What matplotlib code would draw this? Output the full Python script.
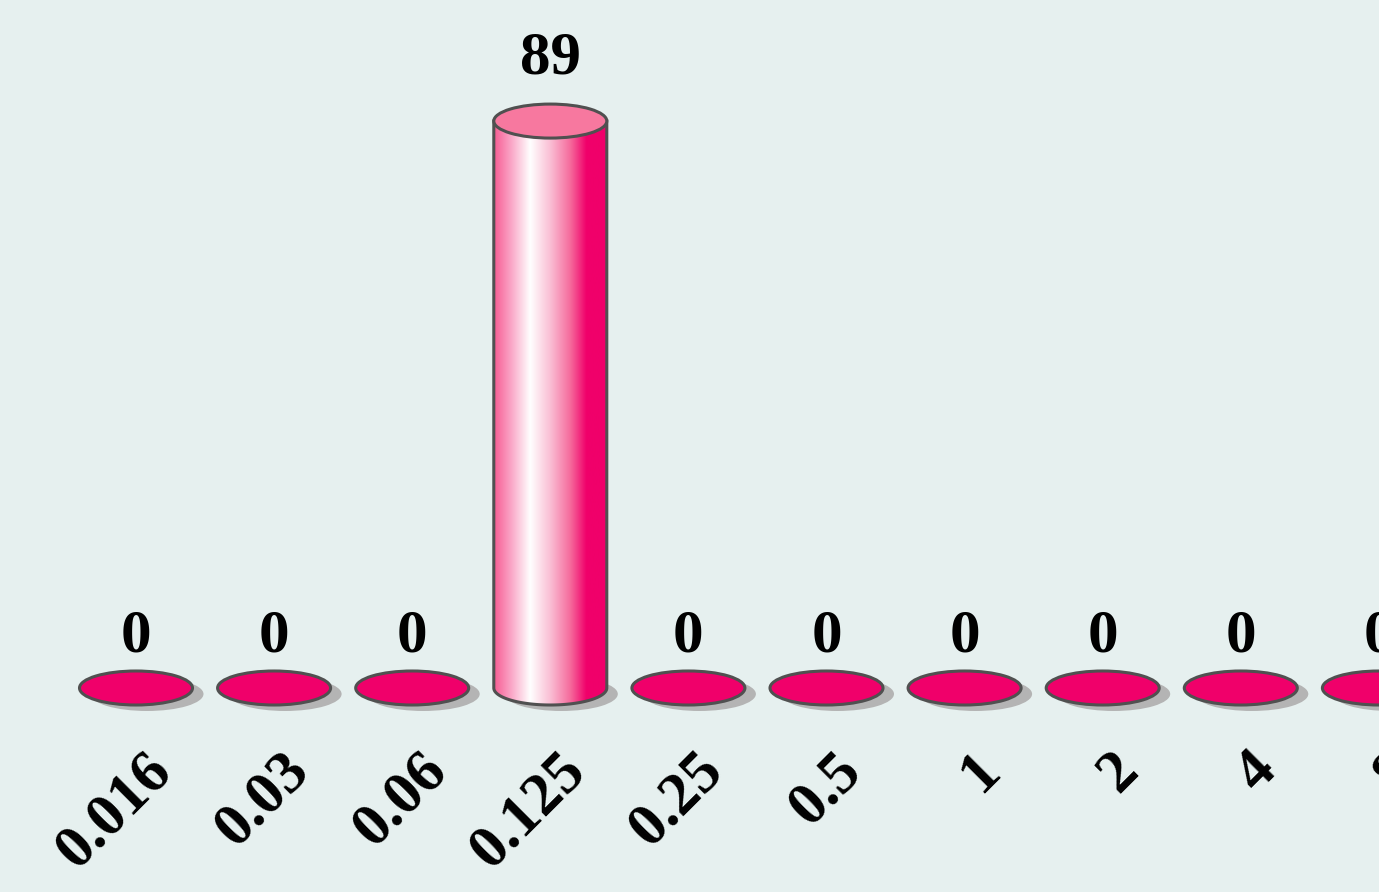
import numpy as np
import matplotlib
matplotlib.use("Agg")
import matplotlib.pyplot as plt
from matplotlib.patches import Ellipse, PathPatch
from matplotlib.path import Path
from matplotlib.colors import LinearSegmentedColormap

# ---- data ----
categories = ["0.016", "0.03", "0.06", "0.125", "0.25", "0.5", "1", "2", "4", "8"]
values = [0, 0, 0, 89, 0, 0, 0, 0, 0, 0]

# ---- style ----
BG = "#e6f0ef"
PINK = "#f0006a"
TOP_PINK = "#f7789f"
EDGE = "#505050"
SHADOW = "#b4b4b4"
FONT = "Liberation Serif"

W_PX, H_PX, DPI = 1379, 892, 100
fig = plt.figure(figsize=(W_PX / DPI, H_PX / DPI), dpi=DPI, facecolor=BG)
ax = fig.add_axes([0, 0, 1, 1])
ax.set_facecolor(BG)
ax.set_axis_off()

step_px = 138.1
x0_px = 136
base_px = 688
px_per_unit = 6.37
ax.set_xlim(-x0_px / step_px, (W_PX - x0_px) / step_px)
ax.set_ylim((base_px - H_PX) / px_per_unit, base_px / px_per_unit)

bw = 113 / step_px            # ellipse / bar width (data units)
eh = 34 / px_per_unit         # ellipse height (data units)
sdx = 11 / step_px            # shadow offset
sdy = -6 / px_per_unit

cmap = LinearSegmentedColormap.from_list(
    "cyl",
    [(0.0, (247/255, 92/255, 147/255)),
     (0.15, (250/255, 165/255, 198/255)),
     (0.32, (1, 1, 1)),
     (0.5, (250/255, 190/255, 212/255)),
     (0.68, (245/255, 105/255, 155/255)),
     (0.82, (240/255, 0, 106/255)),
     (1.0, (240/255, 0, 106/255))])

for i, (cat, v) in enumerate(zip(categories, values)):
    # shadow
    ax.add_patch(Ellipse((i + sdx, sdy), bw, eh, facecolor=SHADOW,
                         edgecolor="none", zorder=1))
    if v > 0:
        left, right = i - bw / 2, i + bw / 2
        ang = np.linspace(np.pi, 2 * np.pi, 80)
        bx = i + (bw / 2) * np.cos(ang)
        by = (eh / 2) * np.sin(ang)
        verts = [(left, v)] + list(zip(bx, by)) + [(right, v), (left, v)]
        codes = [Path.MOVETO] + [Path.LINETO] * (len(verts) - 2) + [Path.CLOSEPOLY]
        body = Path(verts, codes)
        grad = np.linspace(0, 1, 256).reshape(1, -1)
        im = ax.imshow(grad, cmap=cmap, aspect="auto",
                       extent=[left, right, -eh / 2, v], zorder=2,
                       interpolation="bilinear")
        bp = PathPatch(body, facecolor="none", edgecolor=EDGE, lw=2.2, zorder=3)
        ax.add_patch(bp)
        im.set_clip_path(bp)
        ax.add_patch(Ellipse((i, v), bw, eh, facecolor=TOP_PINK,
                             edgecolor=EDGE, lw=2.2, zorder=4))
        label_off = 34
    else:
        ax.add_patch(Ellipse((i, 0), bw, eh, facecolor=PINK,
                             edgecolor=EDGE, lw=2.2, zorder=4))
        label_off = 26
    # value label
    ax.annotate(str(v), xy=(i, v), xytext=(0, label_off), textcoords="offset points",
                ha="center", va="baseline", fontsize=44, fontweight="bold",
                family=FONT, color="black", zorder=5)
    # category label
    ax.annotate(cat, xy=(i, 0), xytext=(19, -53), textcoords="offset points",
                ha="right", va="center", rotation=45, rotation_mode="anchor",
                fontsize=44, fontweight="bold", family=FONT, color="black",
                zorder=5)

fig.savefig("out.png", dpi=DPI, facecolor=BG)
